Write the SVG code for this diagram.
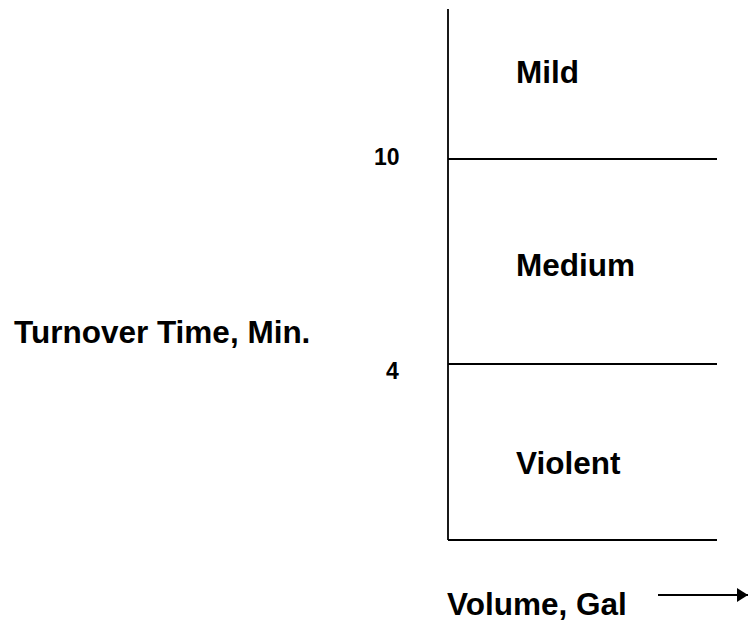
<svg xmlns="http://www.w3.org/2000/svg" width="748" height="622" viewBox="0 0 748 622">
<style>
.t{font-family:"Liberation Sans",Arial,sans-serif;font-weight:bold;fill:#000}
.big{font-size:31.5px}
.num{font-size:23px}
.ln{stroke:#000;stroke-width:1.8;fill:none}
</style>
<defs>
<marker id="ah" markerWidth="12" markerHeight="14" refX="11" refY="7" orient="auto" markerUnits="userSpaceOnUse">
<path d="M0,0 L11,7 L0,14 Z" fill="#000"/>
</marker>
</defs>
<g id="connectors">
<line class="ln" x1="448" y1="9" x2="448" y2="540"/>
<line class="ln" x1="448" y1="159" x2="717" y2="159"/>
<line class="ln" x1="448" y1="364" x2="717" y2="364"/>
<line class="ln" x1="448" y1="540" x2="717" y2="540"/>
<line class="ln" x1="658" y1="595" x2="748" y2="595" marker-end="url(#ah)"/>
</g>
<g id="mild"><text class="t big" x="516" y="83">Mild</text></g>
<g id="medium"><text class="t big" x="516" y="276">Medium</text></g>
<g id="violent"><text class="t big" x="516" y="474">Violent</text></g>
<g id="label10"><text class="t num" x="374" y="165">10</text></g>
<g id="label4"><text class="t num" x="386" y="379">4</text></g>
<g id="yaxis"><text class="t big" x="14" y="343">Turnover Time, Min.</text></g>
<g id="xaxis"><text class="t big" x="447" y="615">Volume, Gal</text></g>
</svg>
